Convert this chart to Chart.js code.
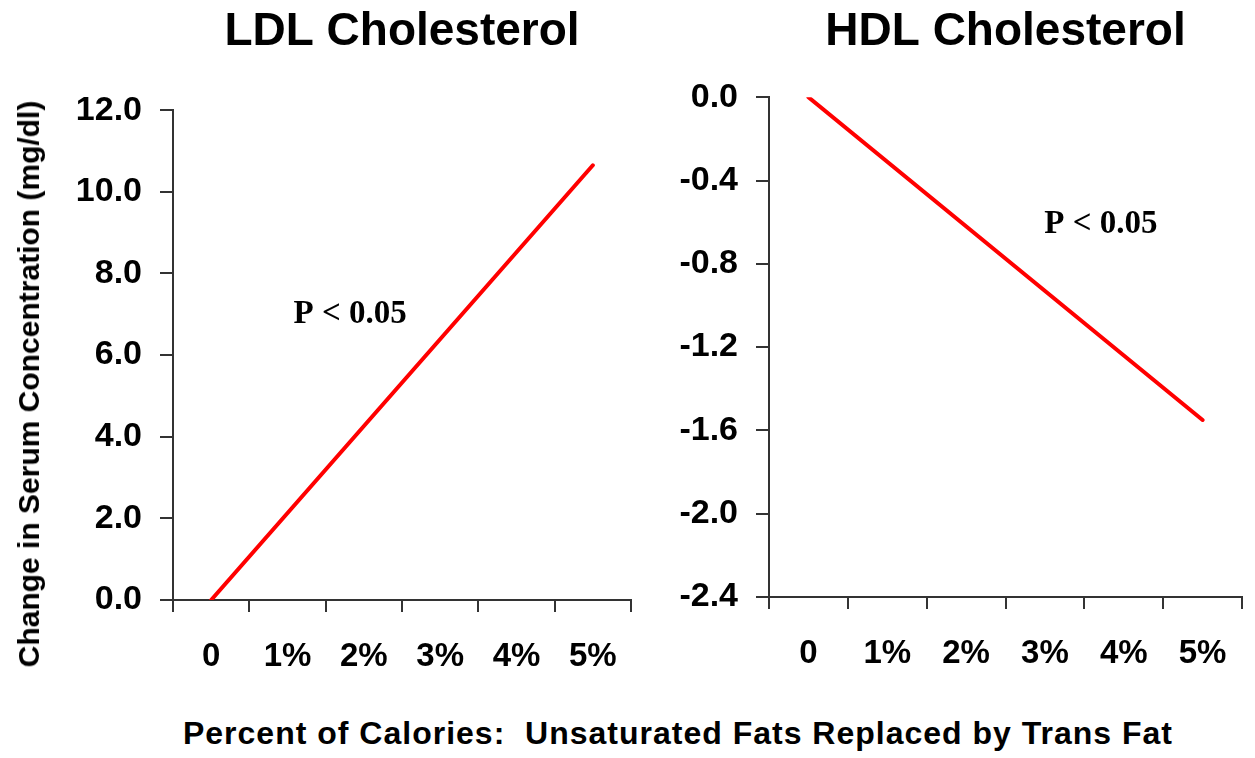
<!DOCTYPE html>
<html>
<head>
<meta charset="utf-8">
<title>Trans fat and serum cholesterol</title>
<script src="https://cdn.jsdelivr.net/npm/chart.js@4.4.1/dist/chart.umd.min.js"></script>
<style>
  html, body { margin: 0; padding: 0; background: #fff; }
  #page { position: relative; width: 1255px; height: 758px; overflow: hidden; font-family: 'Liberation Sans', Arial, Helvetica, sans-serif; }
  #ldl-chart { position: absolute; left: 0; top: 0; }
  #hdl-chart { position: absolute; left: 650px; top: 0; }
  .axis-title { position: absolute; font-weight: bold; color: #000; white-space: pre; }
  #y-title { left: 29px; top: 384px; font-size: 30px; transform: translate(-50%, -50%) rotate(-90deg); }
  #x-title { left: 678px; top: 733px; font-size: 32px; letter-spacing: 1px; transform: translate(-50%, -50%); }
</style>
</head>
<body>
<div id="page">
  <canvas id="ldl-chart" width="650" height="700"></canvas>
  <canvas id="hdl-chart" width="605" height="700"></canvas>
  <div id="y-title" class="axis-title">Change in Serum Concentration (mg/dl)</div>
  <div id="x-title" class="axis-title">Percent of Calories:  Unsaturated Fats Replaced by Trans Fat</div>
</div>
<script>
// Categories (percent of calories swapped to trans fat)
const percentLabels = ['0', '1%', '2%', '3%', '4%', '5%'];

// Fitted change in serum concentration (mg/dl), end points of each line
const ldlChange = [0, null, null, null, null, 10.65];
const hdlChange = [0, null, null, null, null, -1.55];

// Y axis ranges and steps
const ldlRange = [0, 12];
const ldlStep = 2;
const hdlRange = [-2.4, 0];
const hdlStep = 0.4;

// Significance notes (category index, value)
const pNote = 'P < 0.05';
const ldlNoteAt = [1.82, 7.0];
const hdlNoteAt = [3.71, -0.61];

const sansFont = "'Liberation Sans', Arial, Helvetica, sans-serif";
const axisColor = '#333';

// Small plugin to write the P value inside the plot
const pNotePlugin = {
    id: 'pNote',
    afterDatasetsDraw(chart, args, opts) {
        const { ctx, scales } = chart;
        ctx.save();
        ctx.font = "bold 33px 'Liberation Serif', 'Times New Roman', Times, serif";
        ctx.fillStyle = '#000';
        ctx.textAlign = 'center';
        ctx.textBaseline = 'middle';
        ctx.fillText(opts.text, scales.x.getPixelForValue(opts.at[0]), scales.y.getPixelForValue(opts.at[1]));
        ctx.restore();
    }
};

// Build one panel; the sizes below only place the axes like the original figure
function makePanel(canvasId, title, values, range, step, noteAt, box) {
    const ctx = document.getElementById(canvasId).getContext('2d');
    return new Chart(ctx, {
        type: 'line',
        data: {
            labels: percentLabels,
            datasets: [{
                data: values,
                borderColor: '#ff0000',
                borderWidth: 4,
                borderCapStyle: 'round',
                pointRadius: 0,
                spanGaps: true,
                tension: 0
            }]
        },
        options: {
            responsive: false,
            animation: false,
            layout: { padding: { top: 0, right: box.right, bottom: 0, left: 0 } },
            plugins: {
                legend: { display: false },
                tooltip: { enabled: false },
                title: {
                    display: true,
                    text: title,
                    fullSize: false,
                    color: '#000',
                    font: { family: sansFont, size: 46, weight: 'bold' },
                    padding: { top: 5, bottom: box.titleGap }
                },
                pNote: { text: pNote, at: noteAt }
            },
            scales: {
                x: {
                    type: 'category',
                    offset: true,
                    grid: { offset: true, drawOnChartArea: false, tickLength: 12, color: axisColor, lineWidth: 2 },
                    border: { color: axisColor, width: 2 },
                    ticks: { color: '#000', font: { family: sansFont, size: 33, weight: 'bold' }, padding: 25, maxRotation: 0, autoSkip: false },
                    afterFit: scale => { scale.height = box.xHeight; }
                },
                y: {
                    min: range[0],
                    max: range[1],
                    grid: { drawOnChartArea: false, tickLength: 13, color: axisColor, lineWidth: 2 },
                    border: { color: axisColor, width: 2 },
                    ticks: {
                        stepSize: step,
                        color: '#000',
                        font: { family: sansFont, size: 34, weight: 'bold' },
                        padding: 18,
                        callback: v => v.toFixed(1)
                    },
                    afterFit: scale => { scale.width = box.yWidth; }
                }
            }
        },
        plugins: [pNotePlugin]
    });
}

makePanel('ldl-chart', 'LDL Cholesterol', ldlChange, ldlRange, ldlStep, ldlNoteAt,
    { right: 19, titleGap: 50, xHeight: 100, yWidth: 173 });
makePanel('hdl-chart', 'HDL Cholesterol', hdlChange, hdlRange, hdlStep, hdlNoteAt,
    { right: 13, titleGap: 37, xHeight: 103, yWidth: 119 });
</script>
</body>
</html>
